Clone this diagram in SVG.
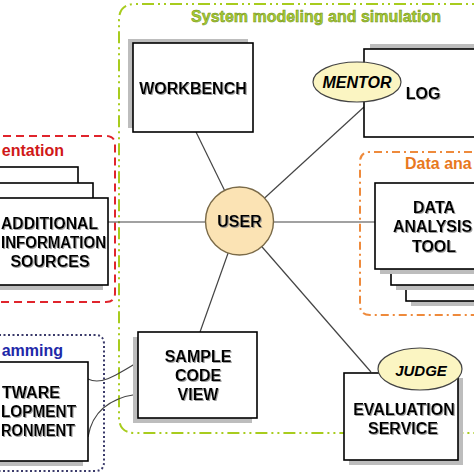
<svg xmlns="http://www.w3.org/2000/svg" width="474" height="474" viewBox="0 0 474 474">
<style>
.box{fill:#fff;stroke:#000;stroke-width:1.6}
.sh{fill:#bdbdbd}
.lbl{font-family:"Liberation Sans",Arial,sans-serif;font-weight:bold;font-size:16px;fill:#000;text-anchor:middle;filter:url(#ts)}
.lbs{font-family:"Liberation Sans",Arial,sans-serif;font-weight:bold;font-size:16px;fill:#000;filter:url(#ts)}
.role{font-family:"Liberation Sans",Arial,sans-serif;font-weight:bold;font-style:italic;font-size:16px;fill:#000;text-anchor:middle}
.oval{fill:#fbf5c2;stroke:#444;stroke-width:1.2}
.title{font-family:"Liberation Sans",Arial,sans-serif;font-weight:bold;font-size:16px}
.con{fill:none;stroke:#444;stroke-width:1.2}
</style>
<defs>
<filter id="ts" x="-10%" y="-20%" width="120%" height="150%">
<feDropShadow dx="1" dy="1" stdDeviation="0.4" flood-color="#888" flood-opacity="0.8"/>
</filter>
</defs>
<rect width="474" height="474" fill="#fff"/>

<g id="group-system">
<path d="M490,4 H135 Q119,4 119,20 V417 Q119,433 135,433 H490" fill="none" stroke="#a8cc1e" stroke-width="2" stroke-dasharray="12 4 2 4 2 4"/>
<text class="title" x="316" y="22" text-anchor="middle" fill="#a6cc33" stroke="#6e8c14" stroke-width="0.5">System modeling and simulation</text>
</g>
<g id="group-presentation">
<path d="M-10,136 H106 Q115,136 115,145 V293 Q115,302 106,302 H-10" fill="none" stroke="#e0242c" stroke-width="2" stroke-dasharray="8 5"/>
<text class="title" x="64" y="156" text-anchor="end" fill="#d01818">entation</text>
</g>
<g id="group-data">
<path d="M490,152 H370 Q360,152 360,162 V305 Q360,315 370,315 H490" fill="none" stroke="#ee8a3c" stroke-width="2" stroke-dasharray="8 4 2 4"/>
<text class="title" x="405" y="169" fill="#e8781e">Data ana</text>
</g>
<g id="group-programming">
<path d="M-10,335 H95 Q104,335 104,344 V462 Q104,471 95,471 H-10" fill="none" stroke="#3a3a6a" stroke-width="2" stroke-dasharray="2 2.5"/>
<text class="title" x="63" y="356" text-anchor="end" fill="#1e28a8">amming</text>
</g>

<g id="connectors">
<line class="con" x1="196" y1="132" x2="239.5" y2="221"/>
<line class="con" x1="364" y1="107" x2="239.5" y2="221"/>
<line class="con" x1="108" y1="222" x2="375" y2="222"/>
<line class="con" x1="200" y1="332" x2="239.5" y2="221"/>
<line class="con" x1="371" y1="372" x2="239.5" y2="221"/>
<path class="con" d="M88,379 C100,385 112,378 138,362"/>
<path class="con" d="M88,437 C92,412 110,398 138,394"/>
</g>

<g id="workbench">
<rect class="sh" x="128" y="39" width="120" height="89"/>
<rect class="box" x="133" y="43" width="120" height="89"/>
<text class="lbl" x="193" y="94">WORKBENCH</text>
</g>

<g id="log">
<rect class="sh" x="370" y="44" width="120" height="88"/>
<rect class="box" x="364" y="49" width="120" height="88"/>
<text class="lbl" x="423" y="99">LOG</text>
<ellipse class="oval" cx="357" cy="82" rx="44" ry="20"/>
<text class="role" x="357" y="88">MENTOR</text>
</g>

<g id="additional">
<rect class="box" x="-10" y="167" width="88" height="40"/>
<rect class="box" x="-10" y="183" width="103" height="40"/>
<rect class="sh" x="-15" y="203" width="118" height="87"/>
<rect class="box" x="-10" y="198" width="118" height="87"/>
<text class="lbs" x="1" y="229" textLength="97" lengthAdjust="spacingAndGlyphs">ADDITIONAL</text>
<text class="lbs" x="1" y="248" textLength="105" lengthAdjust="spacingAndGlyphs">INFORMATION</text>
<text class="lbl" x="50" y="267">SOURCES</text>
</g>

<g id="data-tool">
<rect class="sh" x="411" y="215" width="100" height="91"/>
<rect class="box" x="406" y="210" width="100" height="91"/>
<rect class="sh" x="396" y="205" width="100" height="85"/>
<rect class="box" x="391" y="200" width="100" height="85"/>
<rect class="sh" x="380" y="188" width="120" height="86"/>
<rect class="box" x="375" y="183" width="120" height="86"/>
<text class="lbl" x="434" y="213">DATA</text>
<text class="lbs" x="393" y="232" textLength="79" lengthAdjust="spacingAndGlyphs">ANALYSIS</text>
<text class="lbl" x="434" y="252">TOOL</text>
</g>

<g id="user">
<circle cx="239.5" cy="221" r="34" fill="#fbe3b4" stroke="#7a6a48" stroke-width="1.4"/>
<text class="lbl" x="239.5" y="227">USER</text>
</g>

<g id="sample-code">
<rect class="sh" x="133" y="337" width="119" height="86"/>
<rect class="box" x="138" y="332" width="119" height="86"/>
<text class="lbl" x="198" y="362">SAMPLE</text>
<text class="lbl" x="198" y="381">CODE</text>
<text class="lbl" x="198" y="400">VIEW</text>
</g>

<g id="software">
<rect class="sh" x="-15" y="367" width="98" height="99"/>
<rect class="box" x="-10" y="362" width="98" height="99"/>
<text class="lbs" x="2" y="398" textLength="58" lengthAdjust="spacingAndGlyphs">TWARE</text>
<text class="lbs" x="1" y="417" textLength="75" lengthAdjust="spacingAndGlyphs">LOPMENT</text>
<text class="lbs" x="1" y="436" textLength="74" lengthAdjust="spacingAndGlyphs">RONMENT</text>
</g>

<g id="evaluation">
<rect class="sh" x="349" y="378" width="114" height="87"/>
<rect class="box" x="344" y="373" width="114" height="87"/>
<text class="lbl" x="404" y="415">EVALUATION</text>
<text class="lbl" x="403" y="434">SERVICE</text>
<ellipse class="oval" cx="420" cy="369" rx="42" ry="21"/>
<text class="role" x="421" y="376" style="font-size:15px">JUDGE</text>
</g>
</svg>
